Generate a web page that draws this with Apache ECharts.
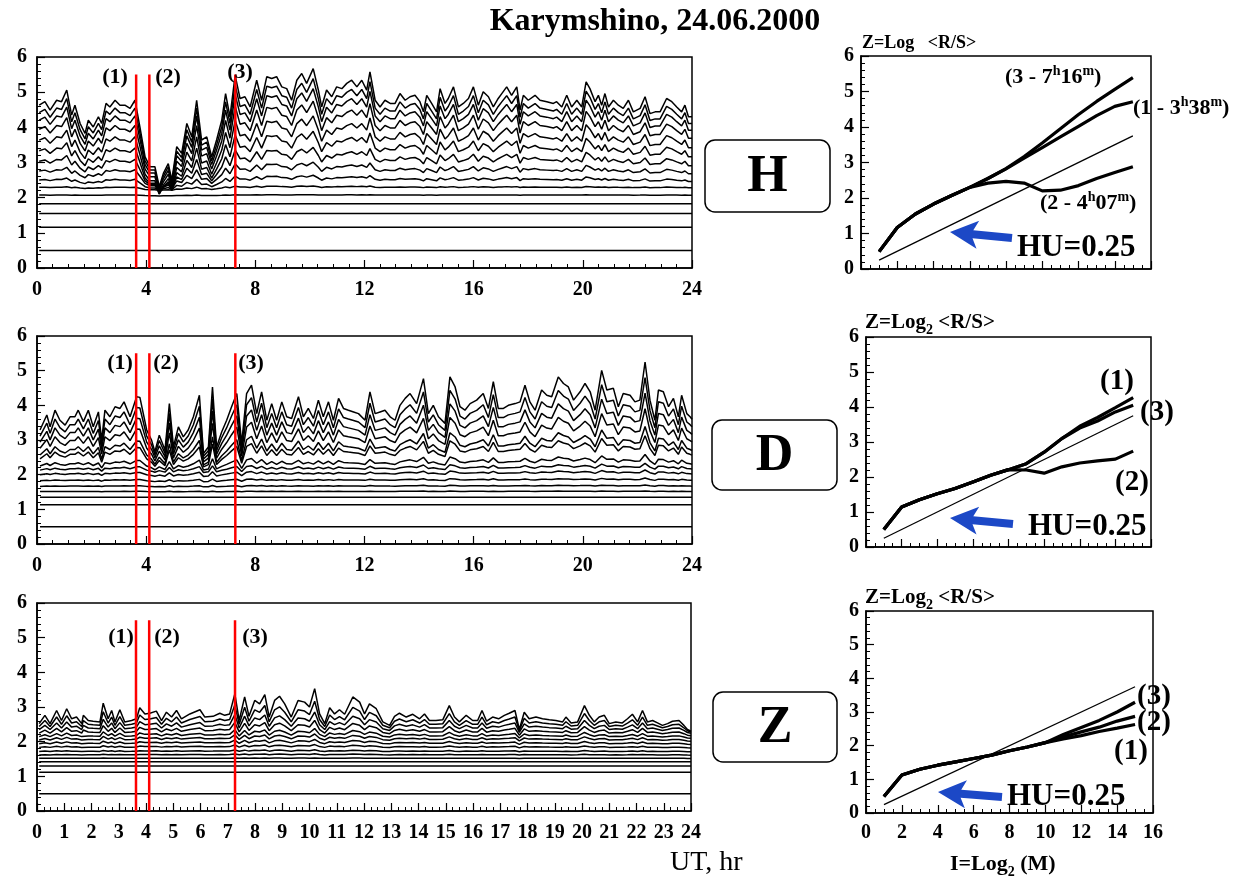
<!DOCTYPE html>
<html><head><meta charset="utf-8">
<script src="https://cdn.jsdelivr.net/npm/echarts@6/dist/echarts.min.js"></script>
<style>html,body{margin:0;padding:0;background:#fff}#c{width:1247px;height:879px}</style>
</head><body><div id="c"></div>
<script>
const FONT = '"Liberation Serif","Times New Roman",serif';

// ---------- LEFT PANELS: top curve (I=15), [UT hours] ----------
const H_t = [0.08,0.29,0.48,0.72,0.90,1.09,1.27,1.39,1.58,1.76,1.88,2.06,2.25,2.37,2.53,2.67,2.86,3.04,3.22,3.41,3.59,3.77,3.96,4.14,4.32,4.48,4.63,4.81,4.94,5.12,5.30,5.49,5.67,5.85,6.03,6.22,6.40,6.58,6.77,6.91,7.07,7.26,7.44,7.62,7.81,8.05,8.23,8.42,8.60,8.78,8.97,9.15,9.33,9.52,9.70,9.88,10.12,10.31,10.43,10.61,10.80,10.98,11.17,11.35,11.53,11.72,11.90,12.08,12.20,12.39,12.57,12.75,12.94,13.12,13.30,13.49,13.67,13.85,14.03,14.16,14.28,14.46,14.64,14.77,14.95,15.07,15.26,15.44,15.62,15.81,15.99,16.17,16.35,16.54,16.72,16.90,17.03,17.21,17.39,17.58,17.70,17.82,18.00,18.25,18.43,18.68,18.92,19.04,19.23,19.41,19.59,19.78,19.96,20.12,20.26,20.45,20.57,20.69,20.81,20.94,21.12,21.30,21.48,21.67,21.85,22.10,22.28,22.46,22.65,22.83,23.07,23.26,23.44,23.62,23.74,23.87,24.0];
const H_top = [4.63,4.73,4.49,4.77,4.73,5.06,4.35,4.63,4.11,3.83,4.20,4.01,4.30,4.11,4.68,4.58,4.77,4.63,4.63,4.54,4.77,4.01,3.16,2.88,2.88,2.31,2.69,2.97,2.50,3.45,3.26,4.11,3.73,4.77,3.64,3.73,3.16,3.64,4.20,4.96,4.30,5.48,4.82,4.87,4.58,5.34,4.77,5.44,5.39,5.44,5.15,5.10,4.77,5.34,5.53,5.25,5.67,5.06,4.58,5.06,4.87,5.15,5.10,5.25,5.34,5.15,5.34,5.06,5.58,4.77,4.58,4.77,4.68,4.68,4.96,4.77,4.87,4.91,4.73,4.44,4.91,4.68,4.44,5.10,4.68,4.82,5.15,4.58,4.68,4.82,5.15,4.63,5.01,4.87,4.58,4.82,4.96,5.15,4.91,5.15,4.49,4.91,4.77,4.91,4.77,4.73,4.68,4.73,4.58,4.91,4.58,4.77,4.58,5.29,5.10,4.73,4.91,4.63,4.96,4.58,4.77,4.63,4.54,4.77,4.44,4.54,4.87,4.39,4.44,4.44,4.82,4.73,4.58,4.44,4.63,4.30,4.30];
// level of each line I=1..15 in the collapsed state, and its response to the top line
const H_base = [0.50,1.16,1.55,1.83,2.05,2.20,2.20,2.20,2.15,2.10,2.10,2.15,2.20,2.25,2.30];
const H_gain = [0,0,0,0,0.01,0.04,0.13,0.24,0.38,0.53,0.66,0.77,0.86,0.93,1];

const D_t = [0.11,0.36,0.48,0.66,0.84,1.03,1.21,1.39,1.51,1.70,1.88,2.06,2.25,2.37,2.49,2.67,2.86,3.04,3.19,3.41,3.65,3.77,4.02,4.20,4.32,4.48,4.69,4.85,5.00,5.18,5.36,5.54,5.73,5.95,6.10,6.28,6.43,6.58,6.77,6.95,7.13,7.32,7.50,7.68,7.86,8.05,8.23,8.42,8.60,8.78,8.97,9.15,9.33,9.58,9.76,9.94,10.13,10.31,10.49,10.68,10.86,11.05,11.23,11.41,11.60,11.78,12.02,12.20,12.39,12.57,12.75,12.94,13.12,13.30,13.49,13.67,13.91,14.16,14.34,14.52,14.71,14.95,15.13,15.32,15.50,15.68,15.87,16.11,16.35,16.54,16.72,16.90,17.09,17.27,17.52,17.70,17.88,18.06,18.25,18.49,18.68,18.86,19.10,19.29,19.47,19.66,19.90,20.08,20.27,20.45,20.69,20.88,21.12,21.30,21.48,21.73,21.91,22.09,22.28,22.46,22.64,22.77,22.95,23.14,23.32,23.50,23.62,23.81,23.93,24.0];
const D_top = [3.29,3.72,3.38,3.86,3.57,3.43,3.67,3.67,3.86,3.53,3.86,3.38,3.81,2.99,3.86,3.67,3.96,3.91,4.10,3.67,4.25,4.23,3.29,2.99,2.66,3.14,2.71,4.05,2.80,3.38,3.09,3.29,3.67,4.29,2.61,2.80,4.53,2.80,3.24,3.57,3.96,4.34,2.90,4.34,4.58,3.76,4.39,3.57,4.05,3.57,4.10,3.67,3.62,4.25,3.67,3.91,3.62,4.15,3.67,4.10,3.57,4.20,3.91,3.86,3.81,3.76,3.57,4.39,3.76,3.81,3.86,3.67,3.57,4.00,4.20,4.34,4.05,4.77,3.76,4.00,3.67,3.48,4.82,4.53,3.96,3.86,4.05,4.15,4.34,3.91,4.68,3.91,3.91,4.00,4.05,4.10,4.58,4.10,3.86,4.44,4.29,4.25,4.82,4.63,4.53,4.15,4.39,4.63,4.39,3.86,5.01,4.44,4.49,3.96,4.34,4.29,4.10,4.15,5.25,4.15,3.57,4.44,4.39,3.96,4.20,3.67,4.29,3.76,3.67,3.60];
const D_base = [0.50,1.13,1.35,1.50,1.64,1.78,1.92,2.02,2.06,2.08,2.10,2.12,2.14,2.16,2.18];
const D_gain = [0,0,0,0.01,0.02,0.04,0.07,0.10,0.17,0.34,0.42,0.58,0.72,0.86,1];

const Z_t = [0.08,0.29,0.48,0.72,0.90,1.09,1.27,1.45,1.64,1.70,1.88,2.06,2.31,2.43,2.61,2.74,2.86,3.04,3.22,3.47,3.65,3.77,3.96,4.14,4.38,4.57,4.75,4.94,5.12,5.30,5.61,5.98,6.16,6.46,6.71,6.89,7.07,7.26,7.42,7.62,7.78,7.99,8.17,8.36,8.52,8.72,8.90,9.09,9.33,9.58,9.82,10.00,10.19,10.37,10.56,10.74,10.92,11.10,11.29,11.59,11.84,12.02,12.20,12.45,12.69,12.94,13.12,13.30,13.55,13.79,14.04,14.22,14.40,14.64,14.89,15.13,15.32,15.50,15.75,15.99,16.17,16.33,16.50,16.72,16.94,17.15,17.33,17.54,17.70,17.88,18.06,18.31,18.55,18.80,19.04,19.29,19.41,19.60,19.84,20.09,20.27,20.45,20.63,20.82,21.00,21.24,21.48,21.67,21.85,22.04,22.22,22.40,22.59,22.77,22.95,23.14,23.32,23.56,23.74,23.87,24.0];
const Z_top = [2.52,2.76,2.52,2.90,2.61,2.95,2.66,2.71,2.52,2.76,2.61,2.59,2.57,3.11,2.66,2.90,2.57,2.92,2.57,2.61,2.66,2.98,2.80,2.82,2.88,2.61,2.85,2.71,2.90,2.66,2.80,2.92,2.71,2.73,2.82,2.76,2.80,3.38,2.61,3.29,2.73,3.19,3.09,3.36,2.71,3.19,3.31,3.09,2.71,3.19,3.14,3.00,3.53,2.80,2.52,2.98,2.80,2.92,2.79,3.29,3.14,2.80,3.09,2.95,2.57,2.47,2.73,2.82,2.71,2.79,2.66,2.80,2.61,2.61,2.63,3.04,2.71,2.57,2.76,2.61,2.61,2.90,2.59,2.71,2.66,2.76,2.82,2.90,2.35,2.85,2.66,2.71,2.66,2.63,2.61,2.57,2.71,2.54,2.57,3.04,2.76,2.57,2.71,2.76,2.52,2.57,2.54,2.66,2.79,2.57,2.90,2.57,2.61,2.54,2.47,2.52,2.59,2.61,2.47,2.35,2.30];
const Z_base = [0.50,1.12,1.30,1.42,1.52,1.62,1.72,1.84,1.95,2.06,2.16,2.27,2.38,2.48,2.58];
const Z_gain = [0,0,0,0,0.01,0.03,0.05,0.08,0.12,0.17,0.23,0.36,0.50,0.72,1];

// event times (1) 3h38m, (2) 4h07m, (3) 7h16m
const eventTimes = [3.633, 4.117, 7.267];
const eventLineTop = 5.5;

// ---------- RIGHT PANELS: Z=Log2<R/S> vs I=Log2(M) ----------
const I_vals = [1,2,3,4,5,6,7,8,9,10,11,12,13,14,15];
const H_c1 = [0.49,1.17,1.55,1.83,2.07,2.30,2.55,2.82,3.12,3.42,3.72,4.02,4.32,4.58,4.71];
const H_c2 = [0.49,1.17,1.55,1.83,2.07,2.30,2.42,2.47,2.42,2.20,2.22,2.35,2.55,2.72,2.88];
const H_c3 = [0.49,1.17,1.55,1.83,2.07,2.30,2.55,2.83,3.17,3.55,3.95,4.35,4.72,5.06,5.39];
const D_c1 = [0.50,1.14,1.35,1.52,1.67,1.86,2.05,2.21,2.38,2.71,3.10,3.45,3.70,3.98,4.27];
const D_c2 = [0.50,1.14,1.35,1.52,1.67,1.86,2.05,2.21,2.20,2.11,2.29,2.40,2.46,2.51,2.74];
const D_c3 = [0.50,1.14,1.35,1.52,1.67,1.86,2.05,2.21,2.38,2.71,3.10,3.40,3.60,3.86,4.05];
const Z_c1 = [0.49,1.13,1.30,1.42,1.52,1.62,1.72,1.85,1.96,2.09,2.20,2.30,2.42,2.52,2.63];
const Z_c2 = [0.49,1.13,1.30,1.42,1.52,1.62,1.72,1.85,1.96,2.09,2.26,2.41,2.55,2.73,2.87];
const Z_c3 = [0.49,1.13,1.30,1.42,1.52,1.62,1.72,1.85,1.96,2.09,2.33,2.54,2.75,3.00,3.29];
const HU_I = [1, 15];
const HU_Z = [0.25, 3.75];

// ---------- build ----------
const chart = echarts.init(document.getElementById('c'));
const grids = [
  {left:37, top:57, width:655, height:211},
  {left:37, top:336, width:655, height:208},
  {left:37, top:603, width:654, height:208},
  {left:861, top:56, width:290, height:213},
  {left:866, top:337, width:285, height:210},
  {left:866, top:611, width:287, height:202}
].map(g => Object.assign({show:true, borderColor:'#000', borderWidth:1.5, containLabel:false}, g));

const lab = {color:'#000', fontFamily:FONT, fontWeight:'bold', fontSize:20};
const axLine = {show:true, lineStyle:{color:'#000', width:1.5}};
const xAxes = [], yAxes = [];
for (let i = 0; i < 6; i++) {
  const left = i < 3;
  xAxes.push({
    type:'value', gridIndex:i, min:0, max:left?24:16,
    interval: left ? (i===2?1:4) : 2,
    axisLine:axLine,
    axisTick:{show:true, inside:true, length:8, lineStyle:{color:'#000', width:1.2}},
    minorTick:{show:true, splitNumber: left ? (i===2?4:7) : 4, length:4, lineStyle:{color:'#000', width:1}},
    axisLabel:Object.assign({show: left || i===5, margin: left?12:10}, lab),
    splitLine:{show:false}, minorSplitLine:{show:false}
  });
  yAxes.push({
    type:'value', gridIndex:i, min:0, max:6, interval:1,
    axisLine:axLine,
    axisTick:{show:true, inside:true, length:8, lineStyle:{color:'#000', width:1.2}},
    minorTick:{show:true, splitNumber:5, length:4, lineStyle:{color:'#000', width:1}},
    axisLabel:Object.assign({margin: left?10:7}, lab),
    splitLine:{show:false}
  });
}

const series = [];
function bundle(ts, top, base, gain, idx) {
  const b15 = base[base.length-1];
  for (let k = 0; k < base.length; k++) {
    series.push({
      type:'line', xAxisIndex:idx, yAxisIndex:idx, symbol:'none', silent:true,
      lineStyle:{color:'#000', width:1.5}, z:2,
      data: ts.map((t,i) => [t, base[k] + gain[k]*(top[i]-b15)])
    });
  }
  eventTimes.forEach(t => series.push({
    type:'line', xAxisIndex:idx, yAxisIndex:idx, symbol:'none', silent:true,
    lineStyle:{color:'#ff0000', width:2.5}, z:5,
    data:[[t,0],[t,eventLineTop]]
  }));
}
bundle(H_t, H_top, H_base, H_gain, 0);
bundle(D_t, D_top, D_base, D_gain, 1);
bundle(Z_t, Z_top, Z_base, Z_gain, 2);

function curves(list, idx) {
  list.forEach(c => series.push({
    type:'line', xAxisIndex:idx, yAxisIndex:idx, symbol:'none', silent:true,
    lineStyle:{color:'#000', width:3.2}, z:3,
    data: I_vals.map((x,i) => [x, c[i]])
  }));
  series.push({
    type:'line', xAxisIndex:idx, yAxisIndex:idx, symbol:'none', silent:true,
    lineStyle:{color:'#000', width:1.3}, z:3,
    data: HU_I.map((x,i) => [x, HU_Z[i]])
  });
}
curves([H_c1,H_c2,H_c3], 3);
curves([D_c1,D_c2,D_c3], 4);
curves([Z_c1,Z_c2,Z_c3], 5);

// ---------- annotations ----------
const g = [];
function txt(x, y, text, size, opts) {
  g.push({type:'text', x, y, z:20, style:Object.assign({
    text, fill:'#000', fontFamily:FONT, fontWeight:'bold', fontSize:size,
    textAlign:'center', textVerticalAlign:'middle'}, opts||{})});
}
txt(655, 22, 'Karymshino, 24.06.2000', 32);
// boxed component letters
[[705,140,125,72,'H'],[712,420,125,70,'D'],[713,692,124,70,'Z']].forEach(b => {
  g.push({type:'rect', shape:{x:b[0], y:b[1], width:b[2], height:b[3], r:10}, z:10,
    style:{fill:'#fff', stroke:'#000', lineWidth:1.5}});
  txt(b[0]+b[2]/2, b[1]+b[3]/2+2, b[4], 52);
});
// event labels on left panels
[[77,72],[363,363],[637,637]].forEach((yy, p) => {
  const xs = p===0 ? [115,168,240] : p===1 ? [120,166,251] : [121,167,255];
  txt(xs[0], yy[0], '(1)', 22); txt(xs[1], yy[0], '(2)', 22); txt(xs[2], yy[1], '(3)', 22);
});
txt(670, 863, 'UT, hr', 28, {fontWeight:'normal', textAlign:'left'});
// axis titles of right panels
txt(862, 43, 'Z=Log   <R/S>', 18, {textAlign:'left'});
const subRich = {a:{fontFamily:FONT, fontWeight:'bold', fontSize:21, lineHeight:28, verticalAlign:'middle'},
                 s:{fontFamily:FONT, fontWeight:'bold', fontSize:14, lineHeight:14, verticalAlign:'bottom'}};
g.push({type:'text', x:865, y:323, z:20, style:{text:'{a|Z=Log}{s|2}{a| <R/S>}', rich:subRich, textAlign:'left', textVerticalAlign:'middle', fill:'#000'}});
g.push({type:'text', x:865, y:598, z:20, style:{text:'{a|Z=Log}{s|2}{a| <R/S>}', rich:subRich, textAlign:'left', textVerticalAlign:'middle', fill:'#000'}});
g.push({type:'text', x:950, y:864, z:20, style:{text:'{a|I=Log}{s|2}{a| (M)}', rich:{
  a:{fontFamily:FONT, fontWeight:'bold', fontSize:22, lineHeight:30, verticalAlign:'middle'},
  s:{fontFamily:FONT, fontWeight:'bold', fontSize:14, lineHeight:14, verticalAlign:'bottom'}}, textAlign:'left', textVerticalAlign:'middle', fill:'#000'}});
// curve labels with superscripts (right H panel)
const supRich = {a:{fontFamily:FONT, fontWeight:'bold', fontSize:22, lineHeight:26, verticalAlign:'middle'},
                 s:{fontFamily:FONT, fontWeight:'bold', fontSize:14, lineHeight:14, verticalAlign:'top'}};
[[1005,77,'3','7','16'],[1133,108,'1','3','38'],[1040,203,'2','4','07']].forEach(l => {
  g.push({type:'text', x:l[0], y:l[1], z:20, style:{text:`{a|(${l[2]} - ${l[3]}}{s|h}{a|${l[4]}}{s|m}{a|)}`,
    rich:supRich, textAlign:'left', textVerticalAlign:'middle', fill:'#000'}});
});
// numbered labels right D and Z panels
txt(1117, 382, '(1)', 29); txt(1157, 413, '(3)', 29); txt(1132, 483, '(2)', 29);
txt(1154, 697, '(3)', 29); txt(1154, 723, '(2)', 29); txt(1131, 752, '(1)', 29);
// HU=0.25 labels and blue arrows
txt(1017, 248, 'HU=0.25', 31, {textAlign:'left'});
txt(1028, 527, 'HU=0.25', 31, {textAlign:'left'});
txt(1007, 797, 'HU=0.25', 31, {textAlign:'left'});
function arrow(tx, ty, ex, ey) {
  const L = Math.hypot(ex-tx, ey-ty), dx = (ex-tx)/L, dy = (ey-ty)/L, nx = -dy, ny = dx;
  const hl = 28, hw = 14, sw = 4, back = 23;
  const P = (a, b) => [tx + dx*a + nx*b, ty + dy*a + ny*b];
  g.push({type:'polygon', z:15, shape:{points:[
    [tx,ty], P(hl,hw), P(back,sw), [ex+nx*sw, ey+ny*sw], [ex-nx*sw, ey-ny*sw], P(back,-sw), P(hl,-hw)]},
    style:{fill:'#1c48c6'}});
}
arrow(950, 232, 1012, 238);
arrow(950, 518, 1013, 524);
arrow(938, 792, 1002, 797);

chart.setOption({animation:false, backgroundColor:'#fff', grid:grids, xAxis:xAxes, yAxis:yAxes, series, graphic:g});
</script></body></html>
